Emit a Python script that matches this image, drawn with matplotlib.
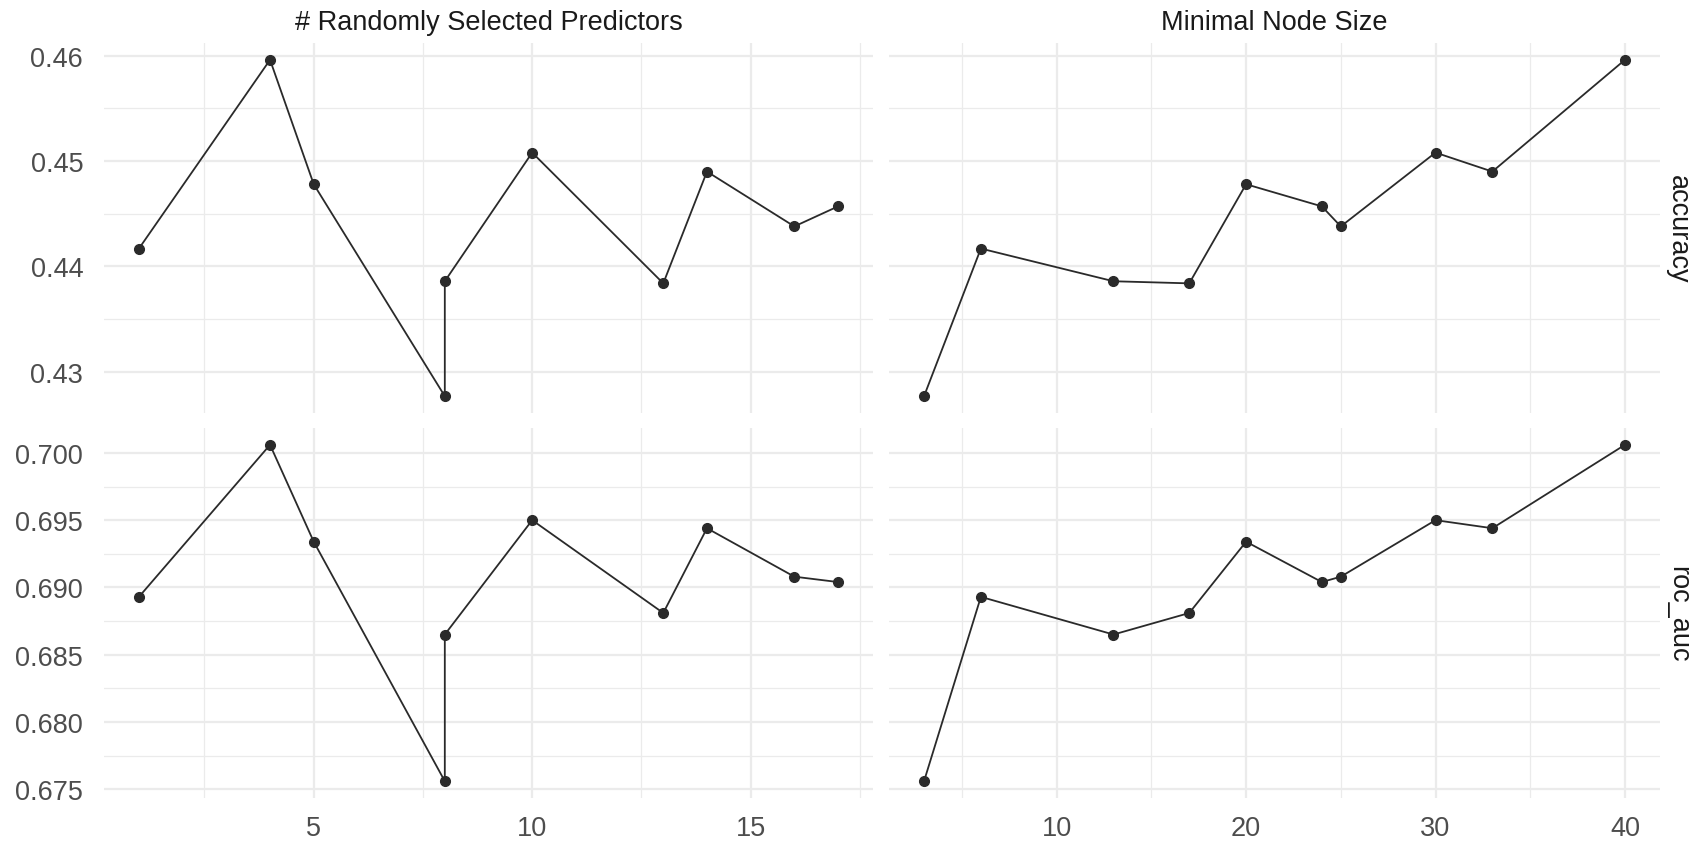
import numpy as np
import matplotlib
matplotlib.use("Agg")
import matplotlib.pyplot as plt
from matplotlib.ticker import MultipleLocator

plt.rcParams.update({'font.family': ['Liberation Sans', 'DejaVu Sans'], 'font.size': 19.5})

# tuning results: one row per candidate (mtry, min_n)
mtry = [1, 4, 5, 8, 8, 10, 13, 14, 16, 17]
min_n = [6, 40, 20, 3, 13, 30, 17, 33, 25, 24]
accuracy = [0.4417, 0.4596, 0.4478, 0.4277, 0.4386, 0.4508, 0.4384, 0.4490, 0.4438, 0.4457]
roc_auc = [0.6893, 0.7006, 0.6934, 0.6756, 0.6865, 0.6950, 0.6881, 0.6944, 0.6908, 0.6904]

param_labels = ['# Randomly Selected Predictors', 'Minimal Node Size']
metric_labels = ['accuracy', 'roc_auc']

params = [mtry, min_n]
metrics = [accuracy, roc_auc]

# facet layout in pixels
col_x = [(104, 873), (889, 1660)]
row_y = [(44, 414), (429, 799)]
W, H = 1698, 845

x_major = [5, 10]
x_minor = [2.5, 5]
y_major = [0.01, 0.005]
y_minor = [0.005, 0.0025]
y_fmt = ['{:.2f}', '{:.3f}']

grid_col = '#EBEBEB'
text_col = '#4D4D4D'
fs = 19.5

fig = plt.figure(figsize=(W / 100, H / 100), dpi=100)

for r, metric in enumerate(metrics):
    for c, param in enumerate(params):
        x0, x1 = col_x[c]
        top, bot = row_y[r]
        ax = fig.add_axes([x0 / W, 1 - bot / H, (x1 - x0) / W, (bot - top) / H])

        x = np.array(param)
        y = np.array(metric)
        order = np.argsort(x, kind='stable')
        ax.plot(x[order], y[order], color='#2a2a2a', lw=1.3, zorder=3)
        ax.plot(x, y, 'o', color='#2a2a2a', ms=7, zorder=4)
        ax.margins(0.05)

        ax.xaxis.set_major_locator(MultipleLocator(x_major[c]))
        ax.xaxis.set_minor_locator(MultipleLocator(x_minor[c]))
        ax.yaxis.set_major_locator(MultipleLocator(y_major[r]))
        ax.yaxis.set_minor_locator(MultipleLocator(y_minor[r]))
        ax.grid(which='major', color=grid_col, lw=1.6)
        ax.grid(which='minor', color=grid_col, lw=0.9)
        ax.set_axisbelow(True)
        for s in ax.spines.values():
            s.set_visible(False)
        ax.tick_params(which='both', length=0, colors=text_col, labelsize=fs)
        ax.tick_params(axis='y', pad=15)
        ax.tick_params(axis='x', pad=12)

        if c == 0:
            ax.yaxis.set_major_formatter(lambda v, p, f=y_fmt[r]: f.format(v))
        else:
            ax.set_yticklabels([])
        if r == 0:
            ax.set_xticklabels([])
            ax.set_title(param_labels[c], color='#1A1A1A', fontsize=fs, pad=10)
        else:
            ax.xaxis.set_major_formatter(lambda v, p: '{:g}'.format(v))

    fig.text(1678 / W, 1 - (row_y[r][0] + row_y[r][1]) / 2 / H, metric_labels[r],
             rotation=-90, ha='center', va='center', color='#1A1A1A', fontsize=fs)

fig.savefig('out.png', dpi=100, facecolor='white')
